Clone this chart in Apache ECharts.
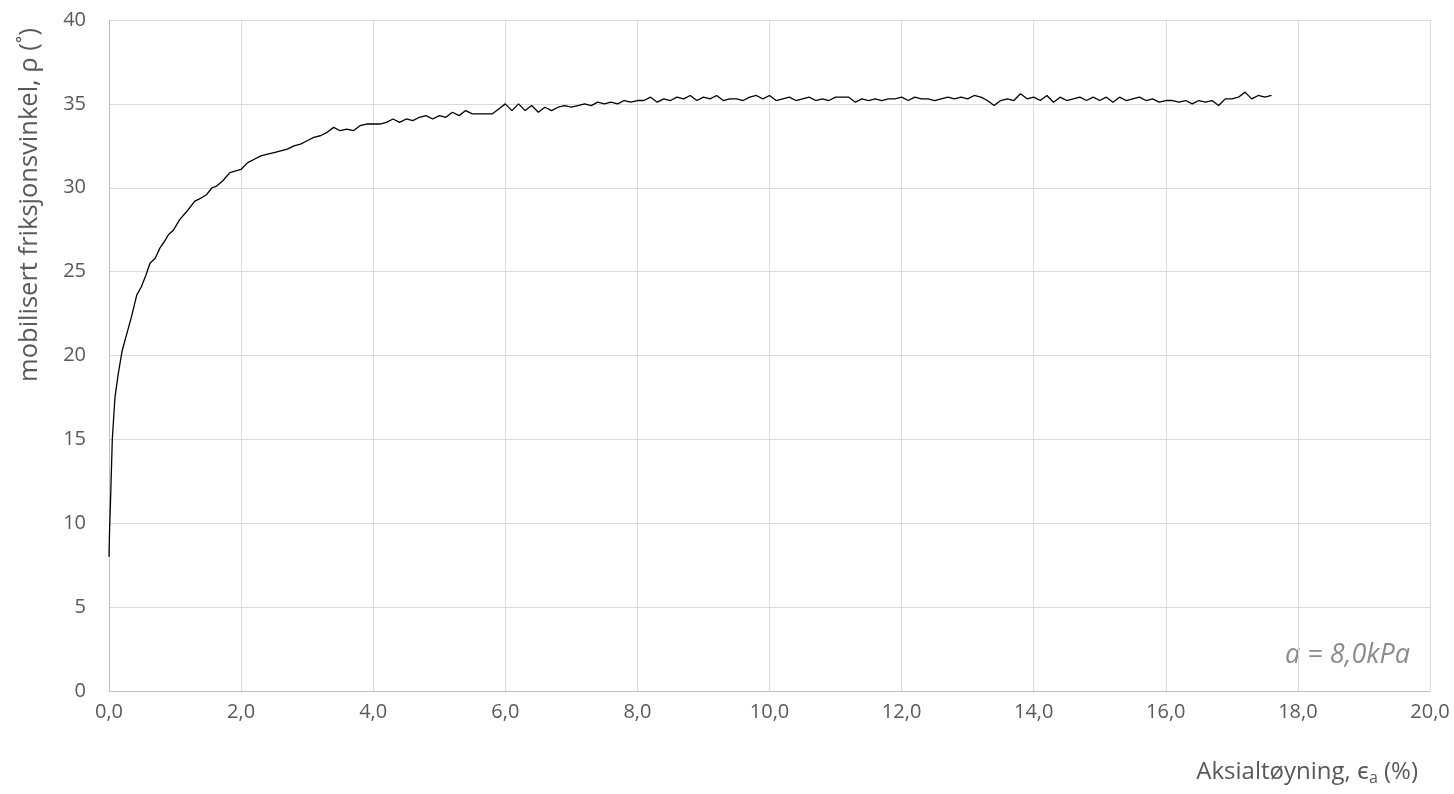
<!DOCTYPE html>
<html>
<head>
<meta charset="utf-8">
<script src="https://cdn.jsdelivr.net/npm/echarts@6/dist/echarts.min.js"></script>
<style>html,body{margin:0;padding:0;background:#fff}#chart{width:1454px;height:794px}</style>
</head>
<body>
<div id="chart"></div>
<script>
// Strain (%) values
const strain = [
  0, 0.01, 0.025, 0.05, 0.09, 0.14, 0.2, 0.27, 0.34, 0.42, 0.49, 0.56, 0.62, 0.70, 0.77, 0.84, 0.9, 0.98,
  1.07, 1.18, 1.30, 1.40, 1.48, 1.56, 1.63, 1.72, 1.83, 1.92,
  2.0, 2.1, 2.2, 2.3, 2.4, 2.5, 2.6, 2.7, 2.8, 2.9,
  3.0, 3.1, 3.2, 3.3, 3.4, 3.5, 3.6, 3.7, 3.8, 3.9,
  4.0, 4.1, 4.2, 4.3, 4.4, 4.5, 4.6, 4.7, 4.8, 4.9,
  5.0, 5.1, 5.2, 5.3, 5.4, 5.5, 5.6, 5.7, 5.8, 5.9,
  6.0, 6.1, 6.2, 6.3, 6.4, 6.5, 6.6, 6.7, 6.8, 6.9,
  7.0, 7.1, 7.2, 7.3, 7.4, 7.5, 7.6, 7.7, 7.8, 7.9,
  8.0, 8.1, 8.2, 8.3, 8.4, 8.5, 8.6, 8.7, 8.8, 8.9,
  9.0, 9.1, 9.2, 9.3, 9.4, 9.5, 9.6, 9.7, 9.8, 9.9,
  10.0, 10.1, 10.2, 10.3, 10.4, 10.5, 10.6, 10.7, 10.8, 10.9,
  11.0, 11.1, 11.2, 11.3, 11.4, 11.5, 11.6, 11.7, 11.8, 11.9,
  12.0, 12.1, 12.2, 12.3, 12.4, 12.5, 12.6, 12.7, 12.8, 12.9,
  13.0, 13.1, 13.2, 13.3, 13.4, 13.5, 13.6, 13.7, 13.8, 13.9,
  14.0, 14.1, 14.2, 14.3, 14.4, 14.5, 14.6, 14.7, 14.8, 14.9,
  15.0, 15.1, 15.2, 15.3, 15.4, 15.5, 15.6, 15.7, 15.8, 15.9,
  16.0, 16.1, 16.2, 16.3, 16.4, 16.5, 16.6, 16.7, 16.8, 16.9,
  17.0, 17.1, 17.2, 17.3, 17.4, 17.5, 17.6
];
// Mobilised friction angle (degrees)
const angle = [
  8.0, 9.8, 11.6, 15.0, 17.5, 18.9, 20.3, 21.3, 22.3, 23.6, 24.1, 24.8, 25.5, 25.8, 26.4, 26.8, 27.2, 27.5,
  28.1, 28.6, 29.2, 29.4, 29.6, 30.0, 30.1, 30.4, 30.9, 31.0,
  31.1, 31.5, 31.7, 31.9, 32.0, 32.1, 32.2, 32.3, 32.5, 32.6,
  32.8, 33.0, 33.1, 33.3, 33.6, 33.4, 33.5, 33.4, 33.7, 33.8,
  33.8, 33.8, 33.9, 34.1, 33.9, 34.1, 34.0, 34.2, 34.3, 34.1,
  34.3, 34.2, 34.5, 34.3, 34.6, 34.4, 34.4, 34.4, 34.4, 34.7,
  35.0, 34.6, 35.0, 34.6, 34.9, 34.5, 34.8, 34.6, 34.8, 34.9,
  34.8, 34.9, 35.0, 34.9, 35.1, 35.0, 35.1, 35.0, 35.2, 35.1,
  35.2, 35.2, 35.4, 35.1, 35.3, 35.2, 35.4, 35.3, 35.5, 35.2,
  35.4, 35.3, 35.5, 35.2, 35.3, 35.3, 35.2, 35.4, 35.5, 35.3,
  35.5, 35.2, 35.3, 35.4, 35.2, 35.3, 35.4, 35.2, 35.3, 35.2,
  35.4, 35.4, 35.4, 35.1, 35.3, 35.2, 35.3, 35.2, 35.3, 35.3,
  35.4, 35.2, 35.4, 35.3, 35.3, 35.2, 35.3, 35.4, 35.3, 35.4,
  35.3, 35.5, 35.4, 35.2, 34.9, 35.2, 35.3, 35.2, 35.6, 35.3,
  35.4, 35.2, 35.5, 35.1, 35.4, 35.2, 35.3, 35.4, 35.2, 35.4,
  35.2, 35.4, 35.1, 35.4, 35.2, 35.3, 35.4, 35.2, 35.3, 35.1,
  35.2, 35.2, 35.1, 35.2, 35.0, 35.2, 35.1, 35.2, 34.9, 35.3,
  35.3, 35.4, 35.7, 35.3, 35.5, 35.4, 35.5
];
const xTitle = 'Aksialtøyning, ϵ{sub|a} (%)';
const yTitle = 'mobilisert friksjonsvinkel, ρ (˚)';
const note = 'a = 8,0kPa';

const font = '"Open Sans", "Noto Sans", sans-serif';
const chart = echarts.init(document.getElementById('chart'));
chart.setOption({
  animation: false,
  grid: { left: 109, right: 24, top: 20, bottom: 103, containLabel: false },
  xAxis: {
    type: 'value', min: 0, max: 20, interval: 2,
    axisLine: { show: true, lineStyle: { color: '#bfbfbf', width: 1 } },
    axisTick: { show: false },
    splitLine: { show: true, lineStyle: { color: '#d9d9d9', width: 1 } },
    axisLabel: { color: '#595959', fontSize: 20, fontFamily: font, margin: 11,
      formatter: v => v.toFixed(1).replace('.', ',') }
  },
  yAxis: {
    type: 'value', min: 0, max: 40, interval: 5,
    axisLine: { show: true, lineStyle: { color: '#bfbfbf', width: 1 } },
    axisTick: { show: false },
    splitLine: { show: true, lineStyle: { color: '#d9d9d9', width: 1 } },
    axisLabel: { color: '#595959', fontSize: 20, fontFamily: font, margin: 23 }
  },
  series: [{
    type: 'line',
    data: strain.map((x, i) => [x, angle[i]]),
    showSymbol: false,
    lineStyle: { color: '#000', width: 1.3 },
    z: 5
  }],
  graphic: [
    { type: 'text', right: 36, top: 760,
      style: { text: xTitle, fill: '#595959', font: '24px ' + font,
        rich: { sub: { fontSize: 16, fill: '#595959', fontFamily: font, verticalAlign: 'bottom', padding: [12, 0, 0, 0] } } } },
    { type: 'text', x: 30, y: 205, rotation: Math.PI / 2,
      style: { text: yTitle, fill: '#595959', font: '25.5px ' + font, align: 'center', verticalAlign: 'middle' } },
    { type: 'text', x: 1410, y: 655,
      style: { text: note, fill: '#8c8c8c', font: 'italic 27px ' + font, align: 'right', verticalAlign: 'middle' } }
  ]
});
</script>
</body>
</html>
